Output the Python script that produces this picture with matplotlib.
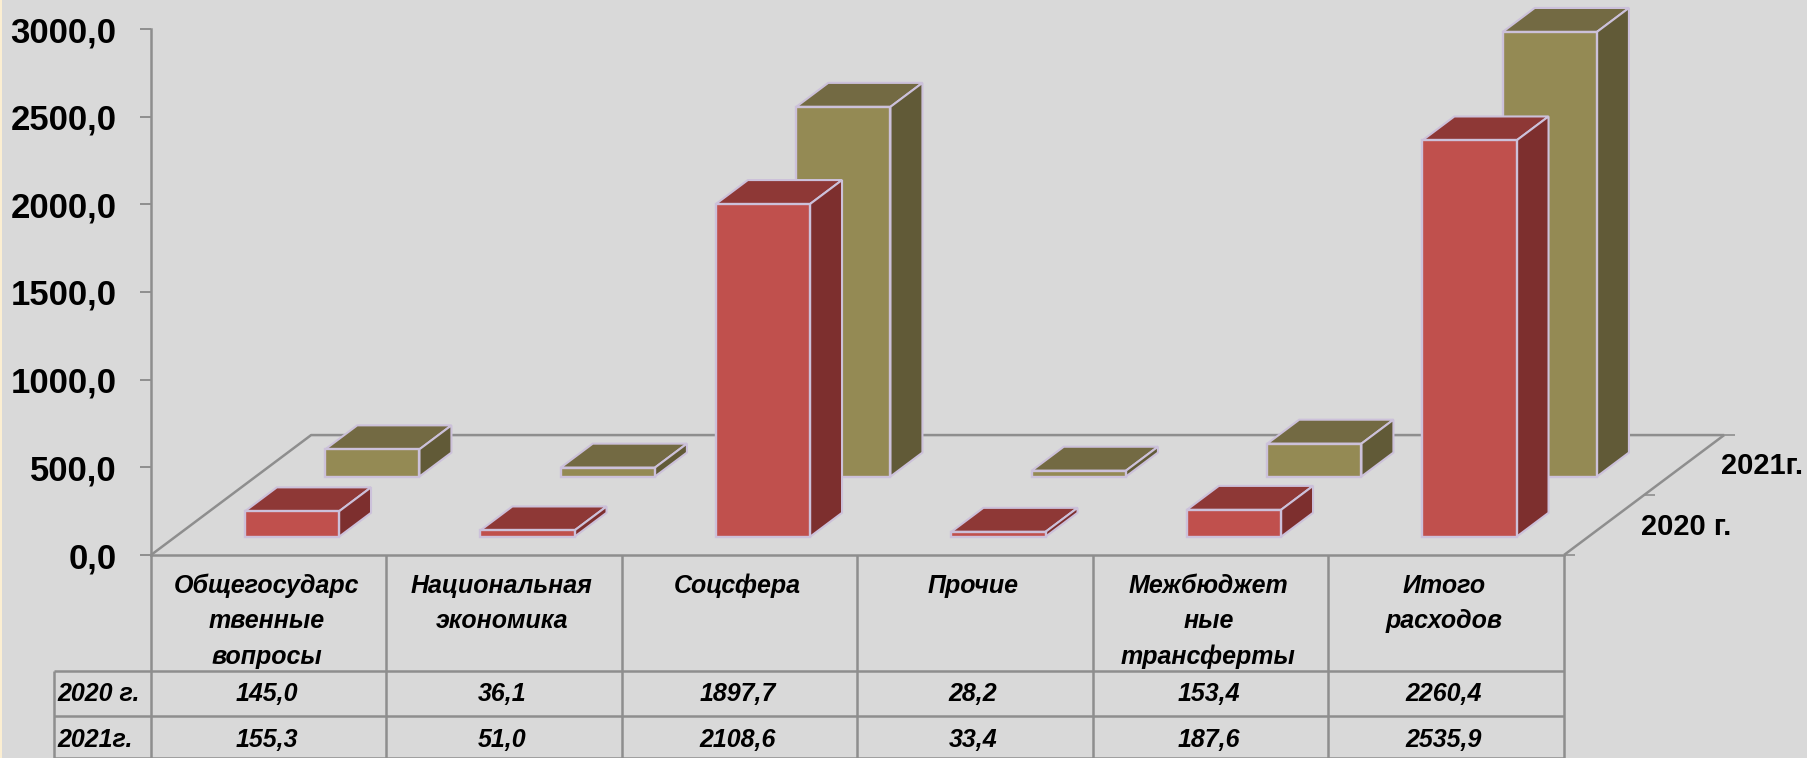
import matplotlib
matplotlib.use('Agg')
import matplotlib.pyplot as plt
from matplotlib.patches import Polygon, Rectangle

plt.rcParams['font.family'] = ['Liberation Sans', 'DejaVu Sans']

# данные
categories = ['Общегосударс\nтвенные\nвопросы', 'Национальная\nэкономика', 'Соцсфера',
              'Прочие', 'Межбюджет\nные\nтрансферты', 'Итого\nрасходов']
values_2020 = [145.0, 36.1, 1897.7, 28.2, 153.4, 2260.4]
values_2021 = [155.3, 51.0, 2108.6, 33.4, 187.6, 2535.9]
series_names = ['2020 г.', '2021г.']
y_ticks = [0, 500, 1000, 1500, 2000, 2500, 3000]

W, H = 1808, 758
BG = '#D9D9D9'
GRID = '#8E8E8E'
EDGE = '#CCC1DA'
# цвета: перед, верх, бок
RED = ('#C0504D', '#8E3836', '#7D2F2E')
OLIVE = ('#948A54', '#736A43', '#615A37')

DX = 0.68    # сдвиг всей глубины по x, в единицах категорий
DY = 684.0   # сдвиг всей глубины по y, в единицах значений
BAR_W = 0.4
BAR_D = 0.2

fig = plt.figure(figsize=(W / 100, H / 100), dpi=100, facecolor=BG)
fig.patches.append(Rectangle((0, 0), 2 / W, 1, transform=fig.transFigure, color='#FCEFD2', lw=0))
ax = fig.add_axes([151 / W, (H - 555) / H, 1413 / W, 526 / H])
ax.set_xlim(0, 6)
ax.set_ylim(0, 3000)
ax.patch.set_visible(False)

for s in ['top', 'right']:
    ax.spines[s].set_visible(False)
for s in ['left', 'bottom']:
    ax.spines[s].set_color(GRID)
    ax.spines[s].set_linewidth(1.8)
ax.set_xticks([])
ax.set_yticks(y_ticks)
ax.set_yticklabels([('%.1f' % v).replace('.', ',') for v in y_ticks])
ax.tick_params(axis='y', length=8, width=1.4, color=GRID, pad=17, labelsize=25)
for lab in ax.get_yticklabels():
    lab.set_fontweight('bold')


def line(xs, ys, lw=1.8):
    ax.plot(xs, ys, color=GRID, lw=lw, clip_on=False, zorder=1, solid_capstyle='butt')


# пол
line([0, DX, 6 + DX], [0, DY, DY])
line([6, 6 + DX], [0, DY])
for z in [0, 0.5, 1]:
    line([6 + DX * z, 6.045 + DX * z], [DY * z, DY * z], lw=1.2)


def bars(values, z, colors, order):
    left = [i + 0.295 + DX * z for i in range(len(values))]
    base = DY * z
    ax.bar(left, values, width=BAR_W, bottom=base, align='edge', color=colors[0],
           edgecolor=EDGE, linewidth=1.7, clip_on=False, zorder=order + 1)
    dx, dy = DX * BAR_D, DY * BAR_D
    for x, v in zip(left, values):
        top = base + v
        r = x + BAR_W
        ax.add_patch(Polygon([(x, top), (r, top), (r + dx, top + dy), (x + dx, top + dy)],
                             facecolor=colors[1], edgecolor=EDGE, lw=1.5, clip_on=False, zorder=order))
        ax.add_patch(Polygon([(r, base), (r + dx, base + dy), (r + dx, top + dy), (r, top)],
                             facecolor=colors[2], edgecolor=EDGE, lw=1.5, clip_on=False, zorder=order))


bars(values_2021, 0.654, OLIVE, 2)
bars(values_2020, 0.152, RED, 4)

# таблица
ROW1, ROW2, ROW3 = -662, -918, -1158
for i in range(7):
    line([i, i], [0, ROW3])
x_head = -97 / 235.5
for y in [ROW1, ROW2, ROW3]:
    line([x_head, 6], [y, y])
line([x_head, x_head], [ROW1, ROW3])

txt = dict(ha='center', fontsize=18, fontweight='bold', style='italic', clip_on=False, color='black')
for i, c in enumerate(categories):
    for k, part in enumerate(c.split('\n')):
        ax.text(i + 0.49, -176 - k * 203, part, va='center', **txt)
    ax.text(i + 0.49, -795, ('%.1f' % values_2020[i]).replace('.', ','), va='center', **txt)
    ax.text(i + 0.49, -1055, ('%.1f' % values_2021[i]).replace('.', ','), va='center', **txt)
for name, y in zip(series_names, [-795, -1055]):
    ax.text(x_head + 0.015, y, name, va='center', ha='left', fontsize=18, fontweight='bold',
            style='italic', clip_on=False)

# подписи рядов глубины
ax.text(6.326, 160, series_names[0], ha='left', va='center', fontsize=21, fontweight='bold', clip_on=False)
ax.text(6.667, 507, series_names[1], ha='left', va='center', fontsize=21, fontweight='bold', clip_on=False)

fig.savefig('out.png', dpi=100, facecolor=BG)
